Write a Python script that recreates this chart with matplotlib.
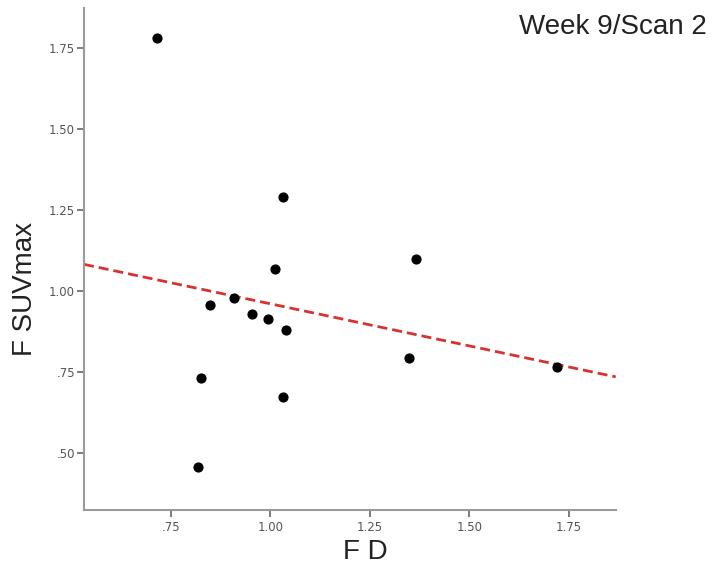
import matplotlib.pyplot as plt
import numpy as np

# FD vs SUVmax, week 9 / scan 2
fd = [0.716, 1.032, 1.012, 1.367, 0.849, 0.909, 0.954, 0.994, 1.039,
      0.826, 1.031, 0.818, 1.349, 1.721]
suv = [1.782, 1.293, 1.069, 1.100, 0.958, 0.979, 0.930, 0.914, 0.880,
       0.734, 0.673, 0.458, 0.796, 0.767]

# fitted regression line
fit_slope = -0.260
fit_intercept = 1.222

xticks = [0.75, 1.00, 1.25, 1.50, 1.75]
xtick_labels = ['.75', '1.00', '1.25', '1.50', '1.75']
yticks = [0.50, 0.75, 1.00, 1.25, 1.50, 1.75]
ytick_labels = ['.50', '.75', '1.00', '1.25', '1.50', '1.75']

plt.rcParams['font.family'] = ['Liberation Sans', 'DejaVu Sans']

fig = plt.figure(figsize=(7.15, 5.7), dpi=100)
ax = fig.add_axes([0.1175, 0.1053, 0.7436, 0.8807])

xmin, xmax = 0.532, 1.868
ax.set_xlim(xmin, xmax)
ax.set_ylim(0.3255, 1.875)

# regression line across the full x range
xl = np.array([xmin, xmax])
ax.plot(xl, fit_intercept + fit_slope * xl, color='#d8322f', lw=2.0,
        dashes=(3.6, 1.8), zorder=2)

ax.scatter(fd, suv, s=40, color='black', zorder=3)

ax.spines['top'].set_visible(False)
ax.spines['right'].set_visible(False)
for s in ['left', 'bottom']:
    ax.spines[s].set_color('#9a9a9a')
    ax.spines[s].set_linewidth(1.5)

ax.set_xticks(xticks)
ax.set_xticklabels(xtick_labels, family='DejaVu Sans')
ax.set_yticks(yticks)
ax.set_yticklabels(ytick_labels, family='DejaVu Sans')
ax.tick_params(axis='both', colors='#666666', labelsize=8.5, length=5,
               width=1.2, direction='out')
ax.tick_params(axis='x', pad=3)
ax.tick_params(axis='y', pad=1.5)
ax.tick_params(axis='both', labelcolor='#555555')

fig.text(365 / 715, 1 - 552 / 570, 'F D', fontsize=20, ha='center',
         va='center', color='#222222')
fig.text(25 / 715, 1 - 289 / 570, 'F SUVmax', fontsize=20, ha='center',
         va='center', rotation=90, color='#222222')
fig.text(707 / 715, 1 - 27 / 570, 'Week 9/Scan 2', fontsize=20, ha='right',
         va='center', color='#222222')

fig.savefig('out.png', dpi=100)
